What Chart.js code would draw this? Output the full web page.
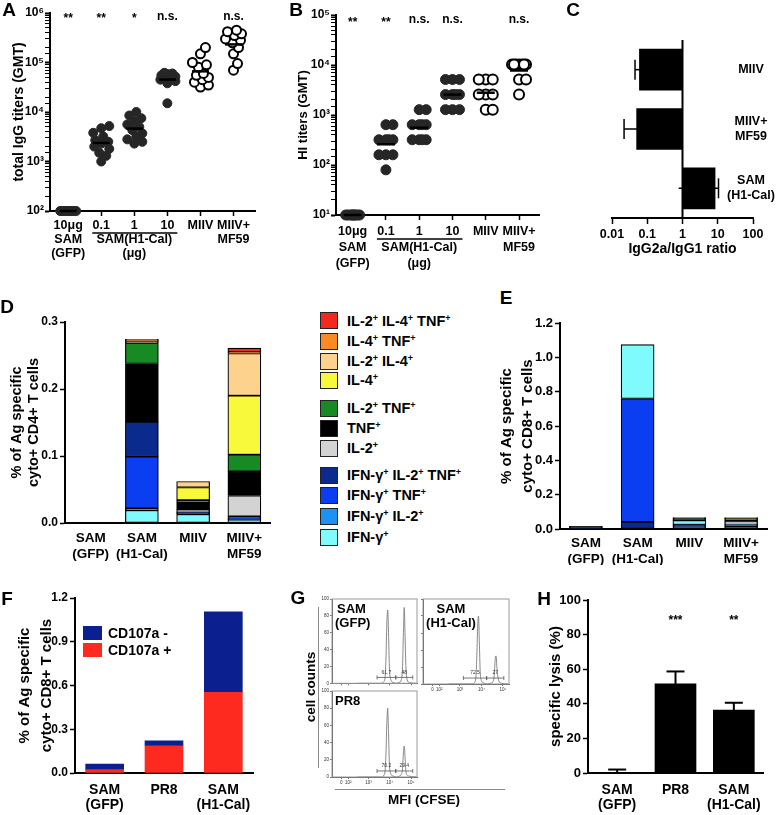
<!DOCTYPE html>
<html>
<head>
<meta charset="utf-8">
<title>SAM vaccine figure</title>
<script src="https://cdn.jsdelivr.net/npm/chart.js@4.4.1/dist/chart.umd.min.js"></script>
<style>
  body { margin: 0; background: #fff; }
  #fig { position: relative; width: 777px; height: 815px; overflow: hidden; font-family: "Liberation Sans", Arial, sans-serif; font-weight: bold; color: #000; }
  #fig canvas { position: absolute; }
  .t { position: absolute; white-space: nowrap; line-height: 1; transform: translate(-50%, -50%); }
  .t sup { font-size: 0.62em; vertical-align: 0.55em; line-height: 0; }
  .box { position: absolute; box-sizing: border-box; }
</style>
</head>
<body>
<div id="fig"></div>
<script>
// ---------- A: total IgG titers ----------
const abLabels = [['10μg', 'SAM', '(GFP)'], '0.1', ['1', 'SAM(H1-Cal)', '(μg)'], '10', 'MIIV', ['MIIV+', 'MF59']]
const iggSamGfp = [100, 100, 100, 100, 100, 100, 100, 100, 100, 100]
const iggSam01 = [1000, 1300, 1500, 1800, 2000, 2300, 2500, 2700, 3200, 3800, 4700, 5200]
const iggSam1 = [2300, 2500, 2800, 3200, 3700, 4300, 5000, 5600, 6500, 7500, 8500, 10000]
const iggSam10 = [15000, 38000, 42000, 45000, 48000, 50000, 52000, 55000, 58000, 60000, 62000]
const iggMiiv = [32000, 35000, 40000, 45000, 50000, 55000, 60000, 80000, 90000, 100000, 150000, 200000]
const iggMiivMf59 = [70000, 95000, 150000, 200000, 250000, 280000, 300000, 350000, 380000, 420000, 450000]
const iggStars = ['**', '**', '*', 'n.s.', '', 'n.s.']

// ---------- B: HI titers ----------
const hiSamGfp = [10, 10, 10, 10, 10, 10, 10, 10, 10, 10]
const hiSam01 = [80, 160, 160, 160, 320, 320, 320, 320, 640, 640]
const hiSam1 = [320, 320, 320, 320, 640, 640, 640, 640, 1280, 1280]
const hiSam10 = [1280, 1280, 1280, 2560, 2560, 2560, 2560, 5120, 5120, 5120]
const hiMiiv = [1280, 1280, 2560, 2560, 2560, 5120, 5120, 5120]
const hiMiivMf59 = [2560, 5120, 5120, 10240, 10240, 10240, 10240, 10240, 10240, 10240]
const hiStars = ['**', '**', 'n.s.', 'n.s.', '', 'n.s.']

// ---------- C: IgG2a/IgG1 ratio ----------
const ratioLabels = [['MIIV'], ['MIIV+', 'MF59'], ['SAM', '(H1-Cal)']]
const ratioMean = [0.06, 0.05, 8.4]
const ratioLow = [0.045, 0.022, 0.78]
const ratioHigh = [0.075, 0.08, 10.5]
const ratioTicks = [0.01, 0.1, 1, 10, 100]

// ---------- D / E: cytokine subsets ----------
const cytoLabels = [['SAM', '(GFP)'], ['SAM', '(H1-Cal)'], 'MIIV', ['MIIV+', 'MF59']]
const subsetNames = [['IL-2', 'IL-4', 'TNF'], ['IL-4', 'TNF'], ['IL-2', 'IL-4'], ['IL-4'], ['IL-2', 'TNF'], ['TNF'], ['IL-2'],
  ['IFN-γ', 'IL-2', 'TNF'], ['IFN-γ', 'TNF'], ['IFN-γ', 'IL-2'], ['IFN-γ']]
const subsetColors = ['#f3281e', '#fb8a22', '#fdd28c', '#f9f93c', '#178a24', '#000000', '#d3d3d3', '#0b2a8e', '#0a3ef0', '#1d92f2', '#7ffafd']

const cd4Il2Il4Tnf = [0, 0.001, 0, 0.006]
const cd4Il4Tnf = [0, 0.002, 0, 0.002]
const cd4Il2Il4 = [0, 0.002, 0.009, 0.063]
const cd4Il4 = [0, 0, 0.019, 0.088]
const cd4Il2Tnf = [0, 0.031, 0.003, 0.025]
const cd4Tnf = [0, 0.087, 0.011, 0.036]
const cd4Il2 = [0, 0, 0.004, 0.031]
const cd4IfnIl2Tnf = [0, 0.052, 0.001, 0.003]
const cd4IfnTnf = [0, 0.077, 0.001, 0.001]
const cd4IfnIl2 = [0, 0.003, 0.001, 0.001]
const cd4Ifn = [0, 0.019, 0.013, 0.005]

const cd8Il2Il4Tnf = [0, 0, 0, 0]
const cd8Il4Tnf = [0, 0, 0, 0]
const cd8Il2Il4 = [0, 0, 0, 0.004]
const cd8Il4 = [0, 0, 0, 0.002]
const cd8Il2Tnf = [0, 0, 0.002, 0.012]
const cd8Tnf = [0.003, 0, 0.010, 0.008]
const cd8Il2 = [0, 0, 0.004, 0.006]
const cd8IfnIl2Tnf = [0.008, 0.041, 0.012, 0.014]
const cd8IfnTnf = [0.004, 0.719, 0.010, 0.010]
const cd8IfnIl2 = [0, 0, 0.003, 0.004]
const cd8Ifn = [0, 0.314, 0.025, 0.006]

// ---------- F: CD107a ----------
const killLabels = [['SAM', '(GFP)'], 'PR8', ['SAM', '(H1-Cal)']]
const cd107aNeg = [0.038, 0.034, 0.552]
const cd107aPos = [0.023, 0.187, 0.553]

// ---------- G: CFSE histograms ----------
const flowTickPos = [11, 19, 43, 68, 93]
const flowTickLabels = ['0', '10²', '10³', '10⁴', '10⁵']
const gfpX = [30, 58, 61, 62.5, 63.5, 64.5, 65.5, 66.5, 67.5, 69, 72, 76, 79, 81.5, 83, 84, 85, 86, 87, 88.5, 91, 99]
const gfpY = [0, 0, 2, 8, 30, 70, 87, 60, 20, 5, 1, 0, 1, 4, 20, 60, 90, 55, 18, 4, 1, 0]
const gfpGateLo = [53, 75]
const gfpGateHi = [75, 95]
const gfpGatePct = ['61.7', '48']
const h1X = [30, 57, 60, 61.5, 62.5, 63.5, 64.5, 65.5, 66.5, 68, 71, 75, 79, 81.5, 83, 84, 85, 86, 88, 91, 99]
const h1Y = [0, 0, 2, 8, 30, 65, 80, 50, 15, 4, 1, 0, 1, 3, 12, 30, 33, 18, 4, 1, 0]
const h1GateLo = [47, 74]
const h1GateHi = [74, 94]
const h1GatePct = ['72.5', '27']
const pr8X = [30, 58, 61, 62.5, 63.5, 64.5, 65.5, 66.5, 67.5, 69, 72, 76, 79, 81.5, 83, 84, 85, 86, 87, 88.5, 91, 99]
const pr8Y = [0, 0, 2, 8, 28, 62, 80, 52, 16, 4, 1, 0, 1, 3, 10, 28, 36, 22, 6, 2, 1, 0]
const pr8GateLo = [53, 75]
const pr8GateHi = [75, 95]
const pr8GatePct = ['70.2', '29.4']

// ---------- H: specific lysis ----------
const lysisMean = [0, 51.5, 36.3]
const lysisSem = [2, 7.2, 4.3]
const lysisStars = ['', '***', '**']

const FONT = '"Liberation Sans", Arial, sans-serif'
Chart.defaults.font.family = FONT
Chart.defaults.font.weight = 'bold'
Chart.defaults.color = '#000'
Chart.defaults.animation = false
Chart.defaults.plugins.legend.display = false
Chart.defaults.plugins.tooltip.enabled = false

const fig = document.getElementById('fig')

function makeChart(box, area, config) {
  const cv = document.createElement('canvas')
  cv.width = box.w
  cv.height = box.h
  cv.style.left = box.x + 'px'
  cv.style.top = box.y + 'px'
  cv.style.width = box.w + 'px'
  cv.style.height = box.h + 'px'
  fig.appendChild(cv)
  const o = config.options
  const hideX = o.scales.x.display === false
  const hideY = o.scales.y.display === false
  o.responsive = false
  o.layout = {
    autoPadding: false,
    padding: {
      top: area.top - box.y,
      right: box.x + box.w - area.right,
      left: hideY ? area.left - box.x : 0,
      bottom: hideX ? box.y + box.h - area.bottom : 0
    }
  }
  o.scales.x.afterFit = s => { s.height = box.y + box.h - area.bottom }
  o.scales.y.afterFit = s => { s.width = area.left - box.x }
  return new Chart(cv, config)
}

function addText(x, y, html, size, style) {
  const d = document.createElement('div')
  d.className = 't'
  d.style.left = x + 'px'
  d.style.top = y + 'px'
  d.style.fontSize = size + 'px'
  if (style) Object.assign(d.style, style)
  d.innerHTML = html
  fig.appendChild(d)
  return d
}

function addBox(x, y, w, h, style) {
  const d = document.createElement('div')
  d.className = 'box'
  Object.assign(d.style, { left: x + 'px', top: y + 'px', width: w + 'px', height: h + 'px' }, style)
  fig.appendChild(d)
}

function line(ctx, x0, y0, x1, y1) {
  ctx.beginPath()
  ctx.moveTo(x0, y0)
  ctx.lineTo(x1, y1)
  ctx.stroke()
}

function isPow10(v) {
  const l = Math.log10(v)
  return Math.abs(l - Math.round(l)) < 1e-6
}

const SUP = { '0': '⁰', '1': '¹', '2': '²', '3': '³', '4': '⁴', '5': '⁵', '6': '⁶', '7': '⁷', '8': '⁸', '9': '⁹' }
function pow10Label(v) {
  return '10' + String(Math.round(Math.log10(v))).split('').map(c => SUP[c]).join('')
}

function gmt(vals) {
  return Math.exp(vals.reduce((s, v) => s + Math.log(v), 0) / vals.length)
}

// spread points of one column sideways so they do not pile up (Prism style scatter)
function swarm(vals, perDecade, minD, maxHalf) {
  const placed = []
  const off = []
  const order = vals.map((v, i) => i).sort((a, b) => vals[a] - vals[b])
  for (const i of order) {
    const y = Math.log10(vals[i]) * perDecade
    let best = 0
    let bestScore = -1
    for (let k = 0; k <= 2 * maxHalf; k++) {
      const dx = (k % 2 ? 1 : -1) * Math.ceil(k / 2)
      let closest = Infinity
      for (const p of placed) closest = Math.min(closest, Math.hypot(dx - p.x, y - p.y))
      if (closest >= minD) { best = dx; break }
      if (closest > bestScore) { bestScore = closest; best = dx }
    }
    placed.push({ x: best, y })
    off[i] = best
  }
  return off
}

function swarmSets(groups, open, area, xr, yr, r, minD, maxHalf, meanR) {
  const perDecade = (area.bottom - area.top) / Math.log10(yr[1] / yr[0])
  const perUnit = (area.right - area.left) / (xr[1] - xr[0])
  const sets = [{
    data: groups.map((g, i) => ({ x: i, y: gmt(g) })),
    pointStyle: 'line', pointRadius: meanR, pointBorderWidth: 2.5, pointBorderColor: '#000', clip: false
  }]
  groups.forEach((g, i) => {
    const off = swarm(g, perDecade, minD, maxHalf)
    sets.push({
      data: g.map((v, k) => ({ x: i + off[k] / perUnit, y: v })),
      pointRadius: r,
      pointBackgroundColor: open[i] ? '#fff' : '#262626',
      pointBorderColor: open[i] ? '#000' : '#262626',
      pointBorderWidth: open[i] ? 2 : 1,
      clip: false
    })
  })
  return sets
}

function groupAxis(xr, labels, size, lh) {
  return {
    type: 'linear', min: xr[0], max: xr[1],
    border: { color: '#000', width: 2 },
    grid: { drawOnChartArea: false, tickColor: '#000', tickLength: 5, tickWidth: 1.5 },
    afterBuildTicks: s => { s.ticks = labels.map((l, i) => ({ value: i })) },
    ticks: { autoSkip: false, maxRotation: 0, padding: 3, font: { size, weight: 'bold', lineHeight: lh }, callback: v => labels[v] }
  }
}

function logAxis(yr, title, tSize, tPad) {
  return {
    type: 'logarithmic', min: yr[0], max: yr[1],
    border: { color: '#000', width: 2 },
    grid: { drawOnChartArea: false, tickColor: '#000', tickLength: 5, tickWidth: c => (c.tick && isPow10(c.tick.value)) ? 2 : 1 },
    ticks: { autoSkip: false, padding: 1, font: { size: 12, weight: 'bold' }, callback: v => isPow10(v) ? pow10Label(v) : '' },
    title: { display: true, text: title, font: { size: tSize, weight: 'bold', lineHeight: 1.2 }, padding: { top: tPad, bottom: 0 } }
  }
}

function catAxis(labels, size, lh, pad) {
  return {
    type: 'category', labels, stacked: true,
    border: { color: '#000', width: 2 },
    grid: { display: false, drawTicks: false, tickLength: 0 },
    ticks: { autoSkip: false, maxRotation: 0, padding: pad, font: { size, weight: 'bold', lineHeight: lh } }
  }
}

function valAxis(max, step, dec, size, title, tSize, tLH, tPad) {
  return {
    min: 0, max, stacked: true,
    border: { color: '#000', width: 2 },
    grid: { drawOnChartArea: false, tickColor: '#000', tickLength: 5, tickWidth: 1.5 },
    ticks: { stepSize: step, autoSkip: false, padding: 2, font: { size, weight: 'bold' }, callback: v => v.toFixed(dec) },
    title: { display: true, text: title, font: { size: tSize, weight: 'bold', lineHeight: tLH }, padding: { top: tPad, bottom: 0 } }
  }
}

function abDecor(stars, nsDy, starDy, barDy) {
  return {
    id: 'abDecor',
    afterDraw(chart) {
      const { ctx, chartArea, scales: { x } } = chart
      ctx.save()
      ctx.fillStyle = '#000'
      ctx.strokeStyle = '#000'
      ctx.font = 'bold 12px ' + FONT
      ctx.textAlign = 'center'
      ctx.textBaseline = 'alphabetic'
      stars.forEach((s, i) => {
        const dy = s.includes('*') ? starDy : nsDy
        ctx.fillText(s, x.getPixelForValue(i), chartArea.top + dy)
      })
      ctx.lineWidth = 1.5
      line(ctx, x.getPixelForValue(1) - 9, chartArea.bottom + barDy, x.getPixelForValue(3) + 10, chartArea.bottom + barDy)
      ctx.restore()
    }
  }
}

// ---------- panel A ----------
const aBox = { x: 0, y: 0, w: 262, h: 268 }
const aArea = { left: 50, top: 13, right: 255, bottom: 211 }
const aX = [-0.55, 5.65]
const aY = [100, 1e6]
makeChart(aBox, aArea, {
  type: 'scatter',
  data: { datasets: swarmSets([iggSamGfp, iggSam01, iggSam1, iggSam10, iggMiiv, iggMiivMf59], [false, false, false, false, true, true], aArea, aX, aY, 4.5, 7.5, 8, 8.5) },
  options: { scales: { x: groupAxis(aX, abLabels, 12.5, 1.1), y: logAxis(aY, 'total IgG titers (GMT)', 14, 11) } },
  plugins: [abDecor(iggStars, 7, 9, 22)]
})

// ---------- panel B ----------
const bBox = { x: 280, y: 0, w: 262, h: 272 }
const bArea = { left: 336, top: 15, right: 539, bottom: 215 }
const bX = [-0.5, 5.6]
const bY = [10, 1e5]
makeChart(bBox, bArea, {
  type: 'scatter',
  data: { datasets: swarmSets([hiSamGfp, hiSam01, hiSam1, hiSam10, hiMiiv, hiMiivMf59], [false, false, false, false, true, true], bArea, bX, bY, 5, 6.5, 7, 9) },
  options: { scales: { x: groupAxis(bX, abLabels, 12.5, 1.3), y: logAxis(bY, 'HI titers (GMT)', 13, 15.7) } },
  plugins: [abDecor(hiStars, 8, 11, 24)]
})

// ---------- panel C ----------
makeChart({ x: 540, y: 30, w: 237, h: 228 }, { left: 576, top: 40, right: 753, bottom: 218 }, {
  type: 'bar',
  data: { labels: ratioLabels, datasets: [{ data: ratioMean.map(v => [1, v]), backgroundColor: '#000', barThickness: 41, borderSkipped: false }] },
  options: {
    indexAxis: 'y',
    scales: {
      x: {
        type: 'logarithmic', min: 0.01, max: 100,
        border: { color: '#000', width: 2 },
        grid: { drawOnChartArea: false, tickColor: '#000', tickLength: 6, tickWidth: 1.5 },
        afterBuildTicks: s => { s.ticks = ratioTicks.map(v => ({ value: v })) },
        ticks: { autoSkip: false, maxRotation: 0, padding: 3, font: { size: 12.5, weight: 'bold' }, callback: v => String(v) },
        title: { display: true, text: 'IgG2a/IgG1 ratio', font: { size: 14, weight: 'bold' }, padding: { top: 0, bottom: 0 } }
      },
      y: { display: false }
    }
  },
  plugins: [{
    id: 'ratioDecor',
    afterDraw(chart) {
      const { ctx, chartArea, scales: { x, y } } = chart
      ctx.save()
      ctx.strokeStyle = '#000'
      ctx.fillStyle = '#000'
      ctx.lineWidth = 2
      const x1 = x.getPixelForValue(1)
      line(ctx, x1, chartArea.top, x1, chartArea.bottom)
      ctx.lineWidth = 1.5
      ratioMean.forEach((v, i) => {
        const yc = y.getPixelForValue(i)
        line(ctx, x.getPixelForValue(ratioLow[i]), yc, x.getPixelForValue(ratioHigh[i]), yc)
        const tip = x.getPixelForValue(v < 1 ? ratioLow[i] : ratioHigh[i])
        line(ctx, tip, yc - 10, tip, yc + 10)
        ctx.font = 'bold 12.5px ' + FONT
        ctx.textAlign = 'center'
        ctx.textBaseline = 'middle'
        const lines = ratioLabels[i]
        lines.forEach((t, k) => ctx.fillText(t, chartArea.right - 2, yc + (k - (lines.length - 1) / 2) * 15))
      })
      ctx.restore()
    }
  }]
})

// ---------- panel D ----------
const cd4Sets = [cd4Il2Il4Tnf, cd4Il4Tnf, cd4Il2Il4, cd4Il4, cd4Il2Tnf, cd4Tnf, cd4Il2, cd4IfnIl2Tnf, cd4IfnTnf, cd4IfnIl2, cd4Ifn]
const cd8Sets = [cd8Il2Il4Tnf, cd8Il4Tnf, cd8Il2Il4, cd8Il4, cd8Il2Tnf, cd8Tnf, cd8Il2, cd8IfnIl2Tnf, cd8IfnTnf, cd8IfnIl2, cd8Ifn]

function subsetSets(values, order, thickness) {
  return order.map(k => ({
    data: values[k], backgroundColor: subsetColors[k], borderColor: '#000', borderWidth: 1.2,
    borderSkipped: false, barThickness: thickness
  }))
}

makeChart({ x: 0, y: 300, w: 272, h: 265 }, { left: 65, top: 322, right: 270, bottom: 523 }, {
  type: 'bar',
  data: { labels: cytoLabels, datasets: subsetSets(cd4Sets, [10, 9, 8, 7, 6, 5, 4, 3, 2, 1, 0], 33) },
  options: {
    scales: {
      x: catAxis(cytoLabels, 13.5, 1.15, 8),
      y: valAxis(0.3, 0.1, 1, 12, ['% of Ag specific', 'cyto+ CD4+ T cells'], 14.5, 1.2, 8)
    }
  }
})

// legend shared by D and E
const legendY = [320.5, 341, 361, 380, 408, 428, 448, 475, 495, 516, 537]
subsetNames.forEach((parts, k) => {
  addBox(320, legendY[k] - 8.5, 18, 17, { background: subsetColors[k], border: '1.5px solid #222' })
  addText(347, legendY[k], parts.map(p => p + '<sup>+</sup>').join(' '), 14.5, { transform: 'translate(0, -50%)' })
})

// ---------- panel E ----------
makeChart({ x: 486, y: 310, w: 291, h: 255 }, { left: 560, top: 323, right: 767, bottom: 529 }, {
  type: 'bar',
  data: { labels: cytoLabels, datasets: subsetSets(cd8Sets, [7, 8, 9, 10, 6, 5, 4, 3, 2, 1, 0], 33) },
  options: {
    scales: {
      x: catAxis(cytoLabels, 13.5, 1.15, 6.5),
      y: valAxis(1.2, 0.2, 1, 13, ['% of Ag specific', 'cyto+ CD8+ T cells'], 15, 1.43, 10)
    }
  }
})

// ---------- panel F ----------
makeChart({ x: 0, y: 585, w: 262, h: 230 }, { left: 75, top: 598, right: 253, bottom: 773 }, {
  type: 'bar',
  data: {
    labels: killLabels,
    datasets: [
      { data: cd107aPos, backgroundColor: '#ff2a1f', barThickness: 38, borderWidth: 0 },
      { data: cd107aNeg, backgroundColor: '#0b1f8f', barThickness: 38, borderWidth: 0 }
    ]
  },
  options: {
    scales: {
      x: catAxis(killLabels, 14, 1.1, 9.5),
      y: valAxis(1.2, 0.3, 1, 12, ['% of Ag specific', 'cyto+ CD8+ T cells'], 15, 1.45, 14)
    }
  }
})
addBox(83, 626, 19, 14, { background: '#0b1f8f' })
addBox(83, 643, 19, 14, { background: '#ff2a1f' })
addText(108, 633, 'CD107a -', 14, { transform: 'translate(0, -50%)' })
addText(108, 650, 'CD107a +', 14, { transform: 'translate(0, -50%)' })

// ---------- panel G ----------
function histChart(box, area, xs, ys, lo, hi, pct, yLabels, xLabels) {
  makeChart(box, area, {
    type: 'scatter',
    data: {
      datasets: [{
        data: xs.map((x, i) => ({ x, y: ys[i] })), showLine: true, borderColor: '#7a7a7a', borderWidth: 0.9,
        pointRadius: 0, cubicInterpolationMode: 'monotone'
      }]
    },
    options: {
      scales: {
        x: {
          min: 0, max: 100,
          border: { color: '#555', width: 1 },
          grid: { drawOnChartArea: false, tickColor: '#555', tickLength: 2, tickWidth: 0.8 },
          afterBuildTicks: s => { s.ticks = flowTickPos.map(v => ({ value: v })) },
          ticks: { display: xLabels, autoSkip: false, maxRotation: 0, padding: 1, color: '#333', font: { size: 4.5, weight: 'normal' }, callback: (v, i) => flowTickLabels[i] }
        },
        y: {
          min: 0, max: 100,
          border: { color: '#555', width: 1 },
          grid: { drawOnChartArea: false, tickColor: '#555', tickLength: 2, tickWidth: 0.8 },
          ticks: { display: yLabels, stepSize: 20, autoSkip: false, padding: 1, color: '#333', font: { size: 4.5, weight: 'normal' } }
        }
      }
    },
    plugins: [{
      id: 'gates',
      afterDraw(chart) {
        const { ctx, chartArea, scales: { x, y } } = chart
        ctx.save()
        ctx.strokeStyle = '#9a9a9a'
        ctx.lineWidth = 1
        ctx.strokeRect(chartArea.left, chartArea.top, chartArea.width, chartArea.height)
        ctx.strokeStyle = '#555'
        ctx.fillStyle = '#333'
        ctx.lineWidth = 0.8
        ctx.font = '5px ' + FONT
        ctx.textAlign = 'center'
        ctx.textBaseline = 'middle'
        lo.forEach((l, i) => {
          const x0 = x.getPixelForValue(l)
          const x1 = x.getPixelForValue(hi[i])
          const yy = y.getPixelForValue(7)
          line(ctx, x0, yy, x1, yy)
          line(ctx, x0, yy - 2, x0, yy + 2)
          line(ctx, x1, yy - 2, x1, yy + 2)
          ctx.fillText(pct[i], (x0 + x1) / 2, y.getPixelForValue(13))
        })
        ctx.restore()
      }
    }]
  })
}

histChart({ x: 318, y: 594, w: 102, h: 93 }, { left: 332, top: 599, right: 417, bottom: 684 }, gfpX, gfpY, gfpGateLo, gfpGateHi, gfpGatePct, true, false)
histChart({ x: 420, y: 594, w: 92, h: 105 }, { left: 423, top: 599, right: 509, bottom: 684 }, h1X, h1Y, h1GateLo, h1GateHi, h1GatePct, false, true)
histChart({ x: 318, y: 686, w: 102, h: 103 }, { left: 332, top: 691, right: 417, bottom: 777 }, pr8X, pr8Y, pr8GateLo, pr8GateHi, pr8GatePct, true, true)

addText(337, 607.5, 'SAM', 13, { transform: 'translate(0, -50%)' })
addText(335, 621.5, '(GFP)', 13, { transform: 'translate(0, -50%)' })
addText(451, 607.5, 'SAM', 13)
addText(451, 621.5, '(H1-Cal)', 13)
addText(335, 700, 'PR8', 13, { transform: 'translate(0, -50%)' })
addText(311, 687, 'cell counts', 13.5, { transform: 'translate(-50%, -50%) rotate(-90deg)' })
addBox(318, 607, 1, 161, { background: '#8a8a8a' })
addBox(335, 789, 170, 1, { background: '#8a8a8a' })
addText(424, 800, 'MFI (CFSE)', 13.5)

// ---------- panel H ----------
makeChart({ x: 540, y: 585, w: 237, h: 230 }, { left: 588, top: 600, right: 763, bottom: 773 }, {
  type: 'bar',
  data: { labels: killLabels, datasets: [{ data: lysisMean, backgroundColor: '#000', barThickness: 41 }] },
  options: {
    scales: {
      x: catAxis(killLabels, 14, 1.1, 9.5),
      y: valAxis(100, 20, 0, 13, 'specific lysis (%)', 15, 1.2, 7)
    }
  },
  plugins: [{
    id: 'lysisDecor',
    afterDatasetsDraw(chart) {
      const { ctx, chartArea, scales: { x, y } } = chart
      ctx.save()
      ctx.strokeStyle = '#000'
      ctx.fillStyle = '#000'
      ctx.lineWidth = 2
      ctx.font = 'bold 12px ' + FONT
      ctx.textAlign = 'center'
      ctx.textBaseline = 'alphabetic'
      lysisMean.forEach((m, i) => {
        const xc = x.getPixelForValue(i)
        const top = y.getPixelForValue(m + lysisSem[i])
        line(ctx, xc, y.getPixelForValue(m), xc, top)
        line(ctx, xc - 9, top, xc + 9, top)
        ctx.fillText(lysisStars[i], xc, chartArea.top + 24)
      })
      ctx.restore()
    }
  }]
})

// ---------- panel letters ----------
const letters = [['A', 9, 9], ['B', 296, 9], ['C', 573, 9], ['D', 7, 306], ['E', 506, 297], ['F', 7, 598], ['G', 298, 597], ['H', 544, 598]]
letters.forEach(([t, x, y]) => addText(x, y, t, 19))
</script>
</body>
</html>
